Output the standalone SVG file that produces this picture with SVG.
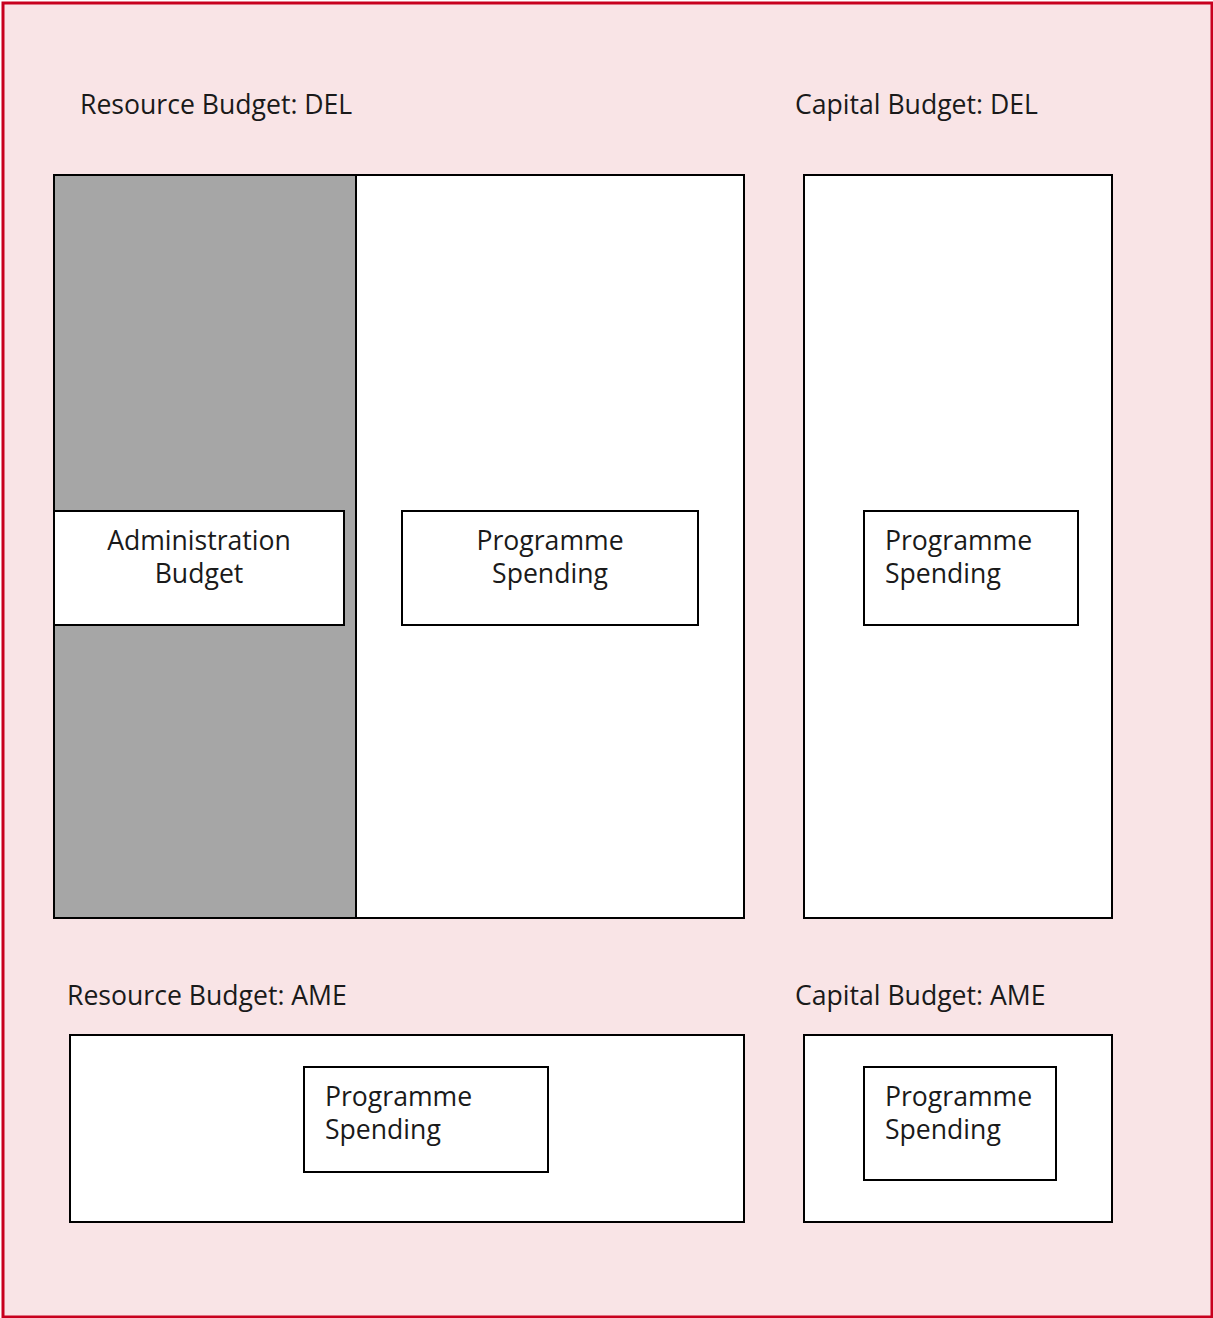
<svg xmlns="http://www.w3.org/2000/svg" width="1213" height="1318" viewBox="0 0 1213 1318">
<style>
.box{fill:#fff;stroke:#000;stroke-width:2}
.t{font-family:"Open Sans","Noto Sans","Liberation Sans",sans-serif;font-size:26.6px;fill:#1a1a1a}
.c{text-anchor:middle}
</style>
<rect x="3" y="3" width="1209" height="1314" fill="#F9E4E6" stroke="#C8001E" stroke-width="3"/>
<g id="labels">
<text class="t" x="80" y="114">Resource Budget: DEL</text>
<text class="t" x="795" y="114">Capital Budget: DEL</text>
<text class="t" x="67" y="1005">Resource Budget: AME</text>
<text class="t" x="795" y="1005">Capital Budget: AME</text>
</g>
<g id="resource-del">
<rect class="box" x="54" y="175" width="690" height="743"/>
<rect x="54" y="175" width="302" height="743" fill="#A6A6A6" stroke="#000" stroke-width="2"/>
</g>
<g id="admin-budget">
<rect class="box" x="54" y="511" width="290" height="114"/>
<text class="t c" x="199" y="550">Administration</text>
<text class="t c" x="199" y="583">Budget</text>
</g>
<g id="prog-res-del">
<rect class="box" x="402" y="511" width="296" height="114"/>
<text class="t c" x="550" y="550">Programme</text>
<text class="t c" x="550" y="583">Spending</text>
</g>
<g id="capital-del">
<rect class="box" x="804" y="175" width="308" height="743"/>
</g>
<g id="prog-cap-del">
<rect class="box" x="864" y="511" width="214" height="114"/>
<text class="t" x="885" y="550">Programme</text>
<text class="t" x="885" y="583">Spending</text>
</g>
<g id="resource-ame">
<rect class="box" x="70" y="1035" width="674" height="187"/>
</g>
<g id="prog-res-ame">
<rect class="box" x="304" y="1067" width="244" height="105"/>
<text class="t" x="325" y="1106">Programme</text>
<text class="t" x="325" y="1139">Spending</text>
</g>
<g id="capital-ame">
<rect class="box" x="804" y="1035" width="308" height="187"/>
</g>
<g id="prog-cap-ame">
<rect class="box" x="864" y="1067" width="192" height="113"/>
<text class="t" x="885" y="1106">Programme</text>
<text class="t" x="885" y="1139">Spending</text>
</g>
<g id="connectors"></g>
</svg>
